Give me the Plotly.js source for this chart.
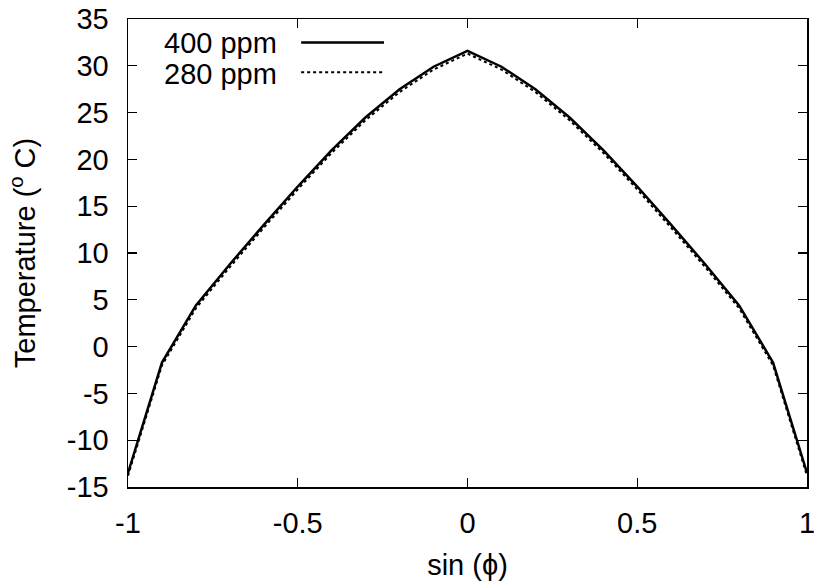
<!DOCTYPE html>
<html><head><meta charset="utf-8">
<script src="https://cdn.plot.ly/plotly-3.0.1.min.js"></script>
<style>body{margin:0;background:#fff}#plot{width:814px;height:583px}</style>
</head><body><div id="plot"></div>
<script>
const sinPhi = [-1,-0.9,-0.8,-0.7,-0.6,-0.5,-0.4,-0.3,-0.2,-0.1,0,0.1,0.2,0.3,0.4,0.5,0.6,0.7,0.8,0.9,1];
const temp400 = [-13.5,-1.7,4.4,8.8,13.0,17.1,21.0,24.5,27.5,29.9,31.6,29.9,27.5,24.5,21.0,17.1,13.0,8.8,4.4,-1.7,-13.5];
const temp280 = [-13.8,-2.0,4.1,8.5,12.7,16.8,20.7,24.2,27.2,29.6,31.3,29.6,27.2,24.2,20.7,16.8,12.7,8.5,4.1,-2.0,-13.8];
const seriesNames = ['400 ppm','280 ppm'];
const xTicks = [-1,-0.5,0,0.5,1];
const yTicks = [-15,-10,-5,0,5,10,15,20,25,30,35];

const font = {family:'Liberation Sans, Arial, sans-serif', size:29, color:'#000'};
const traces = [
  {x:sinPhi, y:temp400, mode:'lines', name:seriesNames[0], line:{color:'#000', width:2.5}},
  {x:sinPhi, y:temp280, mode:'lines', name:seriesNames[1], line:{color:'#000', width:2, dash:'dot'}}
];
const axisCommon = {showgrid:false, zeroline:false, showline:true, linecolor:'#000', linewidth:1.5,
  mirror:'allticks', ticks:'inside', ticklen:9, tickwidth:1.2, tickcolor:'#000', tickfont:font,
  ticklabeloverflow:'allow'};
const layout = {
  width:814, height:583,
  margin:{l:128, r:7, t:19, b:96},
  paper_bgcolor:'#fff', plot_bgcolor:'#fff',
  showlegend:false,
  font:font,
  xaxis:Object.assign({}, axisCommon, {range:[-1,1], tickvals:xTicks, ticktext:xTicks.map(String),
    ticklabelstandoff:10,
    title:{text:'sin (ϕ)', font:font, standoff:16}}),
  yaxis:Object.assign({}, axisCommon, {range:[-15,35], tickvals:yTicks, ticktext:yTicks.map(String),
    ticklabelstandoff:12,
    title:{text:'Temperature (<sup>o</sup> C)', font:font, standoff:22}}),
  annotations:[
    {xref:'paper', yref:'paper', x:0.222, y:0.948, xanchor:'right', yanchor:'middle', text:seriesNames[0], showarrow:false, font:font},
    {xref:'paper', yref:'paper', x:0.222, y:0.883, xanchor:'right', yanchor:'middle', text:seriesNames[1], showarrow:false, font:font}
  ],
  shapes:[
    {type:'line', xref:'paper', yref:'paper', x0:0.255, x1:0.377, y0:0.95, y1:0.95, line:{color:'#000', width:2.5}},
    {type:'line', xref:'paper', yref:'paper', x0:0.255, x1:0.377, y0:0.886, y1:0.886, line:{color:'#000', width:2, dash:'dot'}}
  ]
};
Plotly.newPlot('plot', traces, layout, {displayModeBar:false, staticPlot:true});
</script></body></html>
